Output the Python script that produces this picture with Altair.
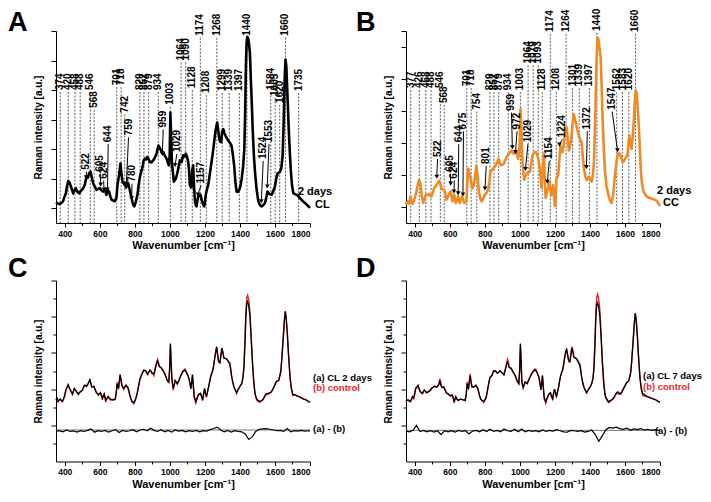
import altair as alt
import pandas as pd

FONT = "Liberation Sans"
ORANGE = "#F08A24"
RED = "#E8262A"

# ---------------- data: panel A (CL, 2 days) : (wavenumber, intensity) ----------------
A_SPECTRUM = [
(350,1.40),(362,1.30),(371,1.29),(380,1.35),(390,1.47),(398,1.75),(406,2.0),(413,2.5),(420,2.84),(427,2.75),
(432,2.58),(440,2.3),(448,2.0),(455,2.2),(463,2.36),(470,2.15),(482,2.0),(490,2.15),(497,2.24),(505,2.35),
(514,2.58),(524,3.13),(531,3.05),(539,3.36),(547,3.47),(554,3.1),(562,2.69),(570,2.5),(581,2.24),(590,2.3),
(600,2.36),(610,2.2),(619,2.13),(628,2.3),(638,1.91),(645,2.2),(653,2.13),(660,1.8),(667,1.58),(676,1.52),
(686,1.47),(695,1.7),(701,2.58),(710,3.24),(718,4.02),(724,3.3),(730,2.8),(736,2.7),(743,2.58),(750,2.4),
(755,2.6),(762,2.69),(770,2.3),(781,1.69),(790,1.25),(797,1.13),(805,1.4),(815,1.91),(822,2.6),(829,3.13),
(837,3.5),(844,3.8),(850,4.2),(857,4.36),(864,4.3),(870,4.47),(878,4.35),(886,4.13),(895,4.1),(905,4.24),
(915,4.45),(924,4.69),(930,5.0),(935,5.24),(942,5.1),(949,4.91),(956,4.75),(962,4.8),(970,4.6),(981,4.36),
(988,4.1),(994,3.91),(999,4.6),(1003,7.47),(1008,5.5),(1012,4.0),(1015,3.69),(1023,2.8),(1028,2.9),(1034,3.0),
(1041,3.3),(1048,3.69),(1057,4.24),(1067,4.13),(1076,4.58),(1082,4.5),(1091,4.69),(1098,4.5),(1105,4.13),(1110,3.5),
(1114,2.58),(1120,2.4),(1124,2.47),(1128,3.6),(1133,3.91),(1138,2.5),(1143,1.47),(1148,1.2),(1152,1.13),(1157,1.5),
(1162,1.8),(1168,1.85),(1175,1.91),(1181,1.6),(1187,1.36),(1192,1.2),(1196,1.13),(1200,1.4),(1205,1.91),(1212,2.3),
(1219,2.58),(1228,3.3),(1238,4.13),(1248,5.0),(1257,5.9),(1263,6.4),(1270,6.8),(1276,6.3),(1282,5.69),(1288,5.5),
(1293,5.47),(1299,6.2),(1305,6.36),(1311,6.1),(1318,5.9),(1325,5.75),(1333,5.58),(1342,5.45),(1352,5.24),(1360,4.6),
(1367,3.91),(1374,2.8),(1381,2.13),(1388,2.1),(1396,2.24),(1403,2.5),(1410,3.0),(1418,3.8),(1425,5.0),(1430,7.5),
(1434,10.6),(1438,12.2),(1442,12.6),(1447,12.5),(1452,12.1),(1457,11.5),(1463,9.5),(1468,8.0),(1473,6.3),(1480,4.5),
(1486,3.47),(1495,2.3),(1505,1.47),(1515,1.2),(1524,1.13),(1533,1.2),(1543,1.36),(1552,1.8),(1557,2.13),(1562,2.05),
(1570,1.95),(1581,1.91),(1590,2.15),(1600,2.47),(1607,3.0),(1615,3.36),(1622,3.4),(1629,3.47),(1636,3.7),(1644,4.58),
(1650,7.0),(1655,9.6),(1660,11.07),(1665,10.6),(1670,9.0),(1675,7.5),(1680,6.0),(1686,4.5),(1691,3.47),(1698,2.5),
(1705,2.02),(1715,1.95),(1724,1.91),(1735,1.8),(1743,1.69),(1757,1.5),(1771,1.36),(1785,1.2),(1800,1.02)]

# (peak label, label bottom, drawn wavenumber of label and dashed line)
A_DASHED = [(374,9.0,374),(420,9.0,420),(458,9.0,458),(488,9.0,488),(546,9.0,546),(568,7.8,568),(701,9.33,697),
(718,9.33,722),(742,7.47,742),(829,9.0,829),(852,9.0,852),(879,9.0,879),(934,9.0,934),(1003,8.0,1003),(1064,11.0,1064),
(1090,11.0,1090),(1128,9.13,1128),(1174,12.67,1174),(1208,8.8,1208),(1268,12.67,1268),(1299,8.93,1299),(1339,8.93,1339),
(1397,8.93,1397),(1440,12.67,1440),(1584,9.0,1576),(1605,8.6,1601),(1620,8.13,1627),(1660,12.67,1660),(1735,8.93,1735)]

# (label, label wavenumber, label bottom, arrow tip wavenumber, arrow tip intensity)
A_ARROWS = [("522",524,3.6,522,3.1),("605",603,3.47,605,2.6),("624",622,3.0,624,2.27),("644",648,5.47,644,2.27),
("759",764,5.93,752,2.67),("780",784,2.8,782,1.67),("959",962,6.47,957,4.67),("1029",1040,4.8,1030,3.93),
("1157",1178,2.67,1160,1.93),("1524",1533,4.33,1522,1.47),("1553",1566,5.47,1556,2.47)]

A_TEXT = [("2 days",1731,2.07,"black"),("CL",1829,1.23,"black")]

# ---------------- data: panel B (CC, 2 days) ----------------
B_SPECTRUM = [
(350,1.15),(356,1.3),(362,1.35),(368,1.2),(375,1.66),(381,1.4),(387,1.19),(394,1.35),(400,1.56),(407,1.8),
(413,2.17),(420,2.5),(425,2.69),(430,2.55),(434,2.28),(440,1.7),(448,1.25),(455,1.5),(463,1.76),(472,1.75),
(482,1.8),(488,1.7),(495,1.66),(503,1.9),(510,2.17),(517,2.25),(524,2.38),(532,2.5),(539,2.63),(545,2.55),
(552,2.17),(560,2.1),(568,2.07),(575,1.8),(581,1.46),(588,1.6),(594,1.76),(600,1.9),(606,1.97),(611,1.6),
(615,1.35),(620,1.6),(625,1.76),(630,1.5),(634,1.25),(641,1.45),(648,1.66),(652,1.4),(657,1.25),(664,1.45),
(670,1.66),(676,1.5),(682,1.25),(690,1.3),(695,1.35),(700,2.6),(705,3.4),(711,3.1),(718,2.79),(724,2.4),
(730,2.17),(737,2.4),(743,2.79),(748,3.2),(752,3.57),(758,3.0),(766,1.97),(773,1.6),(781,1.35),(790,1.5),
(800,1.76),(810,1.9),(819,2.07),(826,2.6),(832,3.2),(840,3.3),(848,3.4),(855,3.5),(863,3.61),(870,3.8),
(878,4.02),(884,3.8),(891,3.61),(900,3.65),(909,3.71),(916,3.9),(924,4.12),(930,4.2),(937,4.33),(945,4.45),
(952,4.53),(959,4.4),(966,4.33),(972,4.45),(977,4.53),(984,4.3),(990,4.02),(995,4.3),(1000,5.25),(1004,7.1),
(1008,6.0),(1012,4.6),(1015,3.82),(1020,3.1),(1025,2.69),(1031,2.9),(1038,3.1),(1047,3.15),(1057,3.2),(1065,3.7),
(1072,4.23),(1079,4.35),(1086,4.43),(1093,4.43),(1099,4.25),(1105,4.02),(1110,3.7),(1114,3.4),(1119,2.8),(1124,2.17),
(1130,3.4),(1137,4.33),(1142,2.8),(1147,1.56),(1153,1.9),(1158,2.07),(1163,2.3),(1167,2.58),(1173,2.2),(1179,1.76),
(1185,2.0),(1190,2.38),(1195,1.7),(1200,1.05),(1205,1.8),(1209,2.79),(1214,2.9),(1219,3.0),(1226,4.0),(1232,4.84),
(1238,4.6),(1244,4.43),(1250,4.9),(1257,5.46),(1262,5.8),(1267,5.97),(1273,5.3),(1280,4.53),(1286,4.8),(1293,5.15),
(1300,6.1),(1305,6.6),(1308,6.79),(1316,6.4),(1324,6.07),(1331,5.7),(1339,5.35),(1346,5.2),(1352,5.05),(1359,4.2),
(1366,3.4),(1374,2.9),(1381,2.69),(1388,2.8),(1396,2.89),(1403,2.7),(1410,2.58),(1417,3.0),(1423,3.82),(1429,6.0),
(1434,8.33),(1439,10.6),(1444,11.6),(1448,11.5),(1454,11.0),(1461,10.4),(1467,8.5),(1473,6.28),(1480,4.5),(1486,3.2),
(1495,2.3),(1505,1.76),(1515,1.4),(1524,1.25),(1533,1.8),(1543,3.0),(1550,3.7),(1558,4.23),(1565,4.35),(1572,4.33),
(1580,4.0),(1587,3.82),(1593,3.85),(1600,4.02),(1607,4.1),(1615,4.33),(1622,5.2),(1626,5.46),(1632,4.9),(1638,4.64),
(1645,5.5),(1651,6.48),(1656,7.6),(1661,8.3),(1667,8.12),(1673,7.2),(1680,5.87),(1686,4.4),(1691,3.2),(1698,2.4),
(1705,1.97),(1715,1.8),(1724,1.66),(1733,1.6),(1743,1.56),(1757,1.5),(1771,1.46),(1780,1.4),(1790,1.25),(1800,1.05)]

B_DASHED = [(377,8.43,377),(426,8.43,426),(468,8.43,463),(488,8.43,493),(546,8.43,546),(568,7.5,568),(701,8.55,697),
(718,8.55,722),(754,7.08,754),(829,8.3,829),(852,8.3,852),(879,8.3,879),(934,8.3,934),(1003,8.3,1003),(1064,9.97,1047),
(1079,9.97,1076),(1093,9.97,1105),(1128,8.3,1128),(1174,11.94,1174),(1208,8.3,1208),(1264,11.94,1264),(1301,8.55,1301),
(1339,8.55,1339),(1397,8.55,1397),(1440,12.0,1440),(1562,8.3,1553),(1583,8.3,1586),(1620,8.3,1622),(1660,11.94,1660)]

B_ARROWS = [("522",530,4.12,526,2.89),("605",603,3.2,605,2.46),("624",626,2.77,624,1.97),("644",651,5.05,648,1.85),
("675",678,5.85,675,1.78),("801",808,3.69,801,2.15),("959",952,7.02,957,4.74),("972",984,5.85,975,4.43),
("1029",1046,5.05,1032,3.38),("1154",1168,4.0,1157,2.58),("1224",1243,5.35,1226,4.9),("1372",1385,5.85,1380,3.5),
("1547",1527,7.08,1557,4.55)]

B_TEXT = [("2 days",1783,1.97,"black"),("CC",1817,1.23,"black")]

# ---------------- data: panel C ((a) CL 2 days, (b) control) : (wavenumber, a, b) ----------------
C_SPECTRA = [
(350,3.41,3.41),(356,3.50,3.48),(362,3.32,3.30),(368,3.40,3.40),(375,3.45,3.43),(381,3.35,3.35),(387,3.32,3.30),(394,3.50,3.46),
(400,3.68,3.60),(405,3.90,3.85),(410,4.04,4.02),(415,4.15,4.12),(419,4.25,4.20),(425,4.10,4.08),(432,3.95,3.95),(438,3.85,3.83),
(444,3.73,3.70),(450,3.90,3.88),(455,4.04,4.02),(461,3.95,3.95),(467,3.86,3.84),(472,3.80,3.80),(478,3.73,3.70),(484,3.80,3.80),
(490,3.86,3.86),(495,3.90,3.90),(501,3.95,3.93),(507,4.10,4.10),(512,4.21,4.18),(518,4.20,4.20),(524,4.16,4.14),(530,4.25,4.25),
(535,4.34,4.32),(540,4.45,4.45),(543,4.57,4.50),(548,4.35,4.35),(554,4.12,4.10),(560,4.14,4.14),(566,4.16,4.16),(573,4.00,3.98),
(581,3.80,3.78),(587,3.75,3.75),(592,3.68,3.66),(598,3.74,3.74),(604,3.80,3.80),(610,3.65,3.62),(615,3.50,3.40),(620,3.62,3.60),
(625,3.73,3.73),(630,3.55,3.50),(634,3.38,3.28),(641,3.50,3.48),(648,3.59,3.59),(655,3.50,3.46),(661,3.45,3.40),(668,3.43,3.40),
(676,3.41,3.38),(682,3.43,3.43),(688,3.45,3.42),(694,3.80,3.80),(699,4.30,4.38),(703,4.15,4.15),(707,4.04,4.00),(711,4.40,4.40),
(716,4.80,4.70),(721,4.50,4.58),(726,4.21,4.21),(732,4.10,4.08),(737,4.04,3.98),(743,4.12,4.12),(749,4.21,4.21),(755,4.15,4.12),
(760,4.12,4.04),(766,3.90,3.90),(771,3.68,3.66),(777,3.50,3.48),(783,3.32,3.32),(789,3.28,3.26),(794,3.24,3.18),(800,3.35,3.33),
(806,3.50,3.50),(812,3.70,3.68),(817,3.95,3.95),(823,4.25,4.22),(829,4.57,4.48),(835,4.70,4.70),(840,4.84,4.80),(846,4.95,4.95),
(851,5.05,5.02),(857,5.03,5.03),(863,5.01,4.98),(868,4.90,4.90),(874,4.84,4.80),(880,4.95,4.95),(886,5.05,5.03),(892,5.00,4.98),
(897,4.92,4.85),(903,4.88,4.84),(909,4.84,4.74),(915,5.05,5.05),(920,5.28,5.30),(925,5.42,5.50),(930,5.55,5.64),(935,5.40,5.45),
(939,5.28,5.28),(945,5.22,5.20),(950,5.19,5.19),(956,5.10,5.08),(962,5.01,5.01),(968,4.90,4.88),(973,4.80,4.80),(979,4.65,4.62),
(985,4.48,4.48),(990,4.42,4.40),(994,4.39,4.36),(999,5.20,5.15),(1003,6.52,6.45),(1007,5.60,5.55),(1011,4.66,4.58),(1015,4.30,4.25),
(1019,4.04,3.94),(1025,4.25,4.20),(1030,4.48,4.46),(1036,4.40,4.40),(1042,4.30,4.28),(1048,4.40,4.40),(1053,4.52,4.50),(1060,4.70,4.70),
(1067,4.84,4.82),(1073,4.95,4.98),(1080,5.01,5.05),(1086,5.05,5.12),(1092,4.95,5.00),(1099,4.84,4.84),(1105,4.70,4.68),(1110,4.57,4.55),
(1115,4.30,4.28),(1120,4.04,4.00),(1125,4.40,4.38),(1129,4.80,4.78),(1134,4.20,4.15),(1139,3.59,3.50),(1144,3.45,3.36),(1148,3.32,3.22),
(1155,3.50,3.45),(1162,3.68,3.66),(1168,3.73,3.73),(1175,3.77,3.74),(1181,3.60,3.56),(1187,3.41,3.35),(1192,3.70,3.68),(1198,4.04,4.00),
(1203,3.80,3.78),(1209,3.59,3.55),(1215,3.85,3.85),(1221,4.12,4.10),(1227,4.40,4.40),(1232,4.66,4.62),(1238,4.85,4.85),(1244,5.01,5.00),
(1250,5.30,5.28),(1255,5.64,5.64),(1261,6.00,6.02),(1267,6.35,6.30),(1272,5.95,5.95),(1278,5.55,5.52),(1282,5.50,5.48),(1286,5.46,5.46),
(1292,5.90,5.92),(1297,6.26,6.26),(1303,6.00,6.04),(1308,5.72,5.72),(1314,5.70,5.70),(1320,5.69,5.69),(1327,5.62,5.65),(1333,5.55,5.55),
(1338,5.45,5.48),(1343,5.37,5.42),(1348,5.05,5.05),(1352,4.75,4.75),(1359,4.40,4.38),(1366,4.12,4.10),(1374,3.95,3.92),(1381,3.80,3.75),
(1388,3.95,3.95),(1396,4.09,4.07),(1403,4.20,4.20),(1410,4.30,4.30),(1417,4.60,4.62),(1423,5.19,5.25),(1429,6.60,6.80),(1434,8.04,8.30),
(1439,8.70,9.05),(1444,8.84,9.19),(1450,8.60,8.95),(1457,8.04,8.30),(1464,6.80,7.00),(1472,5.37,5.45),(1479,4.40,4.40),(1486,3.77,3.75),
(1492,3.55,3.50),(1499,3.41,3.36),(1507,3.35,3.30),(1514,3.32,3.28),(1522,3.36,3.34),(1530,3.41,3.40),(1538,3.55,3.52),(1545,3.68,3.64),
(1552,3.75,3.70),(1560,3.77,3.70),(1567,3.79,3.76),(1575,3.80,3.80),(1582,3.90,3.88),(1590,4.04,4.02),(1598,4.20,4.20),(1606,4.39,4.37),
(1613,4.45,4.45),(1621,4.48,4.46),(1627,4.70,4.70),(1634,5.01,5.01),(1640,5.80,5.80),(1647,6.79,6.79),(1653,7.70,7.72),(1659,8.30,8.30),
(1664,7.90,7.95),(1670,7.15,7.18),(1678,5.80,5.80),(1686,4.66,4.64),(1693,4.10,4.06),(1701,3.73,3.65),(1708,3.70,3.66),(1716,3.68,3.68),
(1725,3.63,3.62),(1735,3.59,3.59),(1745,3.55,3.55),(1754,3.50,3.50),(1765,3.45,3.45),(1777,3.41,3.41),(1788,3.34,3.34),(1800,3.27,3.27)]

C_DIFF = [
(350,1.66),(370,1.70),(390,1.64),(410,1.74),(430,1.66),(450,1.69),(470,1.63),(490,1.70),(510,1.66),(530,1.72),
(550,1.80),(570,1.62),(590,1.70),(610,1.66),(630,1.72),(650,1.62),(670,1.70),(690,1.76),(710,1.60),(730,1.72),
(750,1.66),(770,1.70),(790,1.76),(810,1.64),(830,1.74),(850,1.78),(870,1.70),(890,1.84),(910,1.72),(930,1.66),
(950,1.76),(970,1.64),(990,1.72),(1010,1.62),(1030,1.74),(1050,1.68),(1070,1.72),(1090,1.64),(1110,1.70),(1130,1.66),
(1150,1.72),(1170,1.64),(1190,1.70),(1210,1.68),(1230,1.76),(1250,1.82),(1270,1.90),(1290,1.74),(1310,1.64),(1330,1.72),
(1350,1.62),(1370,1.70),(1390,1.66),(1410,1.64),(1430,1.52),(1450,1.22),(1470,1.36),(1490,1.66),(1510,1.78),(1530,1.80),
(1550,1.82),(1570,1.78),(1590,1.74),(1610,1.70),(1630,1.72),(1650,1.66),(1670,1.82),(1690,1.64),(1710,1.70),(1730,1.68),
(1750,1.72),(1770,1.68),(1790,1.70),(1800,1.69)]
C_ZERO = 1.74
C_TEXT = [("(a) CL 2 days",1817,4.64,"black"),("(b) control",1817,4.05,RED),("(a) - (b)",1817,1.81,"black")]

# ---------------- data: panel D ((a) CL 7 days, (b) control) ----------------
D_SPECTRA = [
(350,3.32,3.32),(356,3.38,3.36),(362,3.41,3.40),(368,3.35,3.33),(375,3.32,3.30),(381,3.45,3.42),(387,3.59,3.55),(394,3.50,3.48),
(400,3.80,3.70),(405,4.04,3.98),(410,4.10,4.08),(415,4.15,4.12),(419,4.21,4.18),(425,4.00,4.00),(432,3.86,3.84),(438,3.80,3.80),
(444,3.77,3.74),(450,3.88,3.88),(455,3.95,3.93),(461,3.88,3.88),(467,3.80,3.78),(472,3.83,3.83),(478,3.86,3.84),(484,3.90,3.90),
(490,3.95,3.93),(495,4.04,4.04),(501,4.08,4.06),(507,4.12,4.12),(512,4.16,4.14),(518,4.14,4.14),(524,4.12,4.10),(530,4.16,4.16),
(535,4.21,4.24),(540,4.30,4.40),(543,4.48,4.57),(548,4.25,4.40),(554,4.09,4.12),(560,4.10,4.10),(566,4.12,4.10),(573,3.95,3.95),
(581,3.80,3.78),(587,3.76,3.76),(592,3.73,3.70),(598,3.68,3.68),(604,3.63,3.60),(610,3.66,3.66),(615,3.68,3.64),(620,3.50,3.45),
(625,3.32,3.25),(630,3.45,3.45),(634,3.59,3.56),(641,3.45,3.42),(648,3.38,3.36),(655,3.42,3.42),(661,3.45,3.43),(668,3.43,3.43),
(676,3.41,3.38),(682,3.40,3.40),(688,3.38,3.36),(694,3.70,3.72),(699,4.30,4.40),(703,4.10,4.12),(707,4.04,4.00),(711,4.35,4.40),
(716,4.75,4.85),(721,4.40,4.50),(726,4.12,4.14),(732,4.12,4.10),(737,4.12,4.12),(743,4.15,4.15),(749,4.21,4.21),(755,4.12,4.10),
(760,4.04,4.02),(766,3.80,3.80),(771,3.59,3.57),(777,3.45,3.45),(783,3.38,3.36),(789,3.35,3.32),(794,3.32,3.25),(800,3.40,3.38),
(806,3.50,3.50),(812,3.75,3.73),(817,4.04,4.04),(823,4.35,4.35),(829,4.66,4.60),(835,4.70,4.70),(840,4.75,4.75),(846,4.90,4.90),
(851,5.01,5.01),(857,5.00,4.98),(863,4.98,4.98),(868,4.93,4.90),(874,4.88,4.88),(880,4.95,4.95),(886,5.01,5.00),(892,4.96,4.96),
(897,4.92,4.90),(903,4.86,4.86),(909,4.80,4.78),(915,5.00,5.02),(920,5.19,5.25),(925,5.37,5.48),(930,5.55,5.65),(935,5.35,5.45),
(939,5.19,5.22),(945,5.17,5.17),(950,5.16,5.16),(956,5.04,5.04),(962,4.92,4.92),(968,4.84,4.84),(973,4.75,4.75),(979,4.60,4.58),
(985,4.44,4.44),(990,4.36,4.36),(994,4.30,4.30),(999,5.10,5.08),(1003,6.52,6.45),(1007,5.60,5.55),(1011,4.48,4.40),(1015,4.25,4.22),
(1019,4.09,4.05),(1025,4.25,4.25),(1030,4.39,4.39),(1036,4.35,4.35),(1042,4.30,4.30),(1048,4.45,4.45),(1053,4.57,4.55),(1060,4.70,4.70),
(1067,4.84,4.86),(1073,4.93,4.96),(1080,5.01,5.04),(1086,5.08,5.10),(1092,5.00,5.10),(1099,4.90,4.92),(1105,4.75,4.75),(1110,4.60,4.60),
(1115,4.30,4.28),(1120,3.95,3.95),(1125,4.35,4.35),(1129,4.75,4.75),(1134,4.10,4.08),(1139,3.55,3.45),(1144,3.40,3.35),(1148,3.30,3.22),
(1155,3.50,3.48),(1162,3.65,3.65),(1168,3.75,3.75),(1175,3.80,3.80),(1181,3.60,3.58),(1187,3.45,3.42),(1192,3.75,3.75),(1198,4.00,4.00),
(1203,3.80,3.80),(1209,3.60,3.58),(1215,3.85,3.85),(1221,4.10,4.10),(1227,4.45,4.45),(1232,4.70,4.70),(1238,4.90,4.90),(1244,5.05,5.05),
(1250,5.35,5.35),(1255,5.70,5.72),(1261,6.00,6.05),(1267,6.17,6.25),(1272,5.90,5.95),(1278,5.60,5.62),(1282,5.50,5.52),(1286,5.50,5.52),
(1292,5.95,6.00),(1297,6.26,6.35),(1303,6.05,6.15),(1308,5.75,5.80),(1314,5.72,5.75),(1320,5.70,5.72),(1327,5.60,5.65),(1333,5.50,5.55),
(1338,5.40,5.45),(1343,5.30,5.38),(1348,5.00,5.02),(1352,4.70,4.70),(1359,4.35,4.35),(1366,4.10,4.10),(1374,3.92,3.92),(1381,3.80,3.78),
(1388,3.92,3.92),(1396,4.05,4.05),(1403,4.15,4.15),(1410,4.30,4.32),(1417,4.55,4.60),(1423,5.10,5.20),(1429,6.50,6.80),(1434,8.00,8.35),
(1439,8.65,9.10),(1444,8.78,9.24),(1450,8.55,9.00),(1457,8.00,8.35),(1464,6.80,7.00),(1472,5.30,5.40),(1479,4.30,4.35),(1486,3.70,3.70),
(1492,3.50,3.48),(1499,3.42,3.35),(1507,3.30,3.25),(1514,3.35,3.30),(1522,3.40,3.38),(1530,3.45,3.43),(1538,3.55,3.52),(1545,3.70,3.66),
(1552,3.80,3.76),(1560,3.85,3.75),(1567,3.78,3.70),(1575,3.75,3.72),(1582,3.85,3.82),(1590,4.00,3.98),(1598,4.15,4.13),(1606,4.30,4.28),
(1613,4.40,4.40),(1621,4.45,4.43),(1627,4.65,4.65),(1634,5.00,5.00),(1640,5.75,5.75),(1647,6.70,6.72),(1653,7.60,7.62),(1659,8.18,8.20),
(1664,7.80,7.82),(1670,7.05,7.08),(1678,5.70,5.70),(1686,4.60,4.58),(1693,4.05,4.02),(1701,3.75,3.65),(1708,3.72,3.62),(1716,3.65,3.62),
(1725,3.60,3.60),(1735,3.55,3.55),(1745,3.52,3.52),(1754,3.48,3.48),(1765,3.45,3.45),(1777,3.40,3.40),(1788,3.33,3.33),(1800,3.27,3.27)]

D_DIFF = [
(350,1.68),(370,1.64),(390,1.72),(410,2.00),(430,1.66),(450,1.72),(470,1.64),(490,1.70),(510,1.62),(530,1.70),
(550,1.48),(570,1.70),(590,1.64),(610,1.70),(630,1.62),(650,1.72),(670,1.66),(690,1.70),(710,1.52),(730,1.68),
(750,1.72),(770,1.64),(790,1.76),(810,1.66),(830,1.78),(850,1.66),(870,1.72),(890,1.64),(910,1.80),(930,1.70),
(950,1.66),(970,1.78),(990,1.64),(1010,1.80),(1030,1.64),(1050,1.72),(1070,1.66),(1090,1.70),(1110,1.64),(1130,1.74),
(1150,1.66),(1170,1.72),(1190,1.68),(1210,1.76),(1230,1.70),(1250,1.64),(1270,1.62),(1290,1.72),(1310,1.70),(1330,1.66),
(1350,1.70),(1370,1.62),(1390,1.66),(1410,1.74),(1430,1.50),(1450,1.12),(1470,1.40),(1490,1.74),(1510,1.88),(1530,1.84),
(1550,1.90),(1570,1.82),(1590,1.78),(1610,1.84),(1630,1.74),(1650,1.80),(1670,1.76),(1690,1.82),(1710,1.74),(1730,1.78),
(1750,1.72),(1770,1.76),(1790,1.72),(1800,1.72)]
D_ZERO = 1.72
D_TEXT = [("(a) CL 7 days",1703,4.75,"black"),("(b) control",1703,4.1,RED),("(a) - (b)",1771,1.7,"black")]

X_TICKS = [400,500,600,700,800,900,1000,1100,1200,1300,1400,1500,1600,1700,1800]

# ---------------- helpers ----------------
XSCALE = alt.Scale(domain=[350, 1800], nice=False, zero=False)
XAXIS = alt.Axis(values=X_TICKS, format="d", title="Wavenumber [cm⁻¹]",
                 labelExpr="datum.value % 200 == 0 ? datum.label : ''",
                 tickSize={"condition": {"test": "datum.value % 200 == 0", "value": 4}, "value": 2.5},
                 titlePadding=2, labelPadding=2, titleFontSize=11)


def X(field):
    return alt.X(f"{field}:Q", scale=XSCALE, axis=XAXIS)


def y_parts(ymax, yticks, major_test):
    scale = alt.Scale(domain=[0, ymax], nice=False, zero=False)
    axis = alt.Axis(values=yticks, labels=False, title="Raman intensity [a.u.]",
                    tickSize={"condition": {"test": major_test, "value": 5}, "value": 3},
                    titlePadding=7, titleFontSize=10)
    return scale, axis


def Y(field, parts):
    return alt.Y(f"{field}:Q", scale=parts[0], axis=parts[1])


def text_layer(rows, yp, size=11):
    df = pd.DataFrame(rows, columns=["label", "x", "y", "c"])
    return alt.Chart(df).mark_text(align="left", baseline="middle", font=FONT, fontWeight="bold",
                                   fontSize=size).encode(
        x=X("x"), y=Y("y", yp), text="label:N", color=alt.Color("c:N", scale=None))


def letter_layer(letter, dx, dy):
    return alt.Chart(pd.DataFrame({"t": [letter]})).mark_text(
        align="left", baseline="top", font=FONT, fontWeight="bold", fontSize=27, color="black"
    ).encode(text="t:N", x=alt.value(dx), y=alt.value(dy))


def annotated_panel(spectrum, color, dashed, arrows, texts, ymax, yticks, major_test, gap, letter, ldx, ldy, height):
    yp = y_parts(ymax, yticks, major_test)
    spec = pd.DataFrame(spectrum, columns=["x", "y"])
    dash_df = pd.DataFrame(dashed, columns=["peak", "y", "x"])
    dash_df["ytop"] = dash_df["y"] - gap
    dash_df["y0"] = 0.0
    dash_df["label"] = dash_df["peak"].astype(str)
    arr = pd.DataFrame(arrows, columns=["label", "x", "y", "tx", "ty"])
    arr["ys"] = arr["y"] - gap

    dash_rules = alt.Chart(dash_df).mark_rule(color="#333333", strokeWidth=0.8, strokeDash=[2, 1.5]).encode(
        x=X("x"), y=Y("ytop", yp), y2="y0:Q")
    line = alt.Chart(spec).mark_line(color=color, strokeWidth=2.6, strokeJoin="round").encode(
        x=X("x"), y=Y("y", yp))
    dash_text = alt.Chart(dash_df).mark_text(angle=270, align="left", baseline="middle", font=FONT,
                                             fontWeight="bold", fontSize=10, color="black").encode(
        x=X("x"), y=Y("y", yp), text="label:N")
    arrow_text = alt.Chart(arr).mark_text(angle=270, align="left", baseline="middle", font=FONT,
                                          fontWeight="bold", fontSize=10, color="black").encode(
        x=X("x"), y=Y("y", yp), text="label:N")
    arrow_rule = alt.Chart(arr).mark_rule(color="black", strokeWidth=1).encode(
        x=X("x"), y=Y("ys", yp), x2="tx:Q", y2="ty:Q")
    arrow_head = alt.Chart(arr).mark_point(shape="triangle-down", filled=True, size=22, color="black",
                                           opacity=1).encode(x=X("tx"), y=Y("ty", yp))
    txt = text_layer(texts, yp, 11)
    return alt.layer(dash_rules, line, dash_text, arrow_rule, arrow_head, arrow_text, txt,
                     letter_layer(letter, ldx, ldy)).properties(width=254, height=height)


def compare_panel(spectra, diff, zero, texts, letter, ldx, ldy, height):
    yp = y_parts(10, [1, 2, 3, 4, 5, 6, 7, 8, 9, 10], "datum.value % 2 == 0")
    sdf = pd.DataFrame(spectra, columns=["x", "a", "b"])
    ddf = pd.DataFrame(diff, columns=["x", "y"])
    zdf = pd.DataFrame({"x": [350], "x2": [1800], "y": [zero]})
    red = alt.Chart(sdf).mark_line(color=RED, strokeWidth=1.4).encode(x=X("x"), y=Y("b", yp))
    black = alt.Chart(sdf).mark_line(color="black", strokeWidth=1.3).encode(x=X("x"), y=Y("a", yp))
    zline = alt.Chart(zdf).mark_rule(color="#555555", strokeWidth=0.8).encode(x=X("x"), x2="x2:Q", y=Y("y", yp))
    dline = alt.Chart(ddf).mark_line(color="black", strokeWidth=1.2).encode(x=X("x"), y=Y("y", yp))
    txt = text_layer(texts, yp, 9.5)
    return alt.layer(zline, dline, red, black, txt, letter_layer(letter, ldx, ldy)).properties(
        width=254, height=height)


pA = annotated_panel(A_SPECTRUM, "black", A_DASHED, A_ARROWS, A_TEXT, 13, [1, 3, 5, 7, 9, 11, 13],
                     "datum.value > 0", 0.13, "A", -48, -21, 192)
pB = annotated_panel(B_SPECTRUM, ORANGE, B_DASHED, B_ARROWS, B_TEXT, 12, [1, 3, 5, 7, 9, 11, 12],
                     "datum.value > 0", 0.12, "B", -50, -21, 192)
pC = compare_panel(C_SPECTRA, C_DIFF, C_ZERO, C_TEXT, "C", -48, -25, 181)
pD = compare_panel(D_SPECTRA, D_DIFF, D_ZERO, D_TEXT, "D", -50, -25, 181)

chart = alt.concat(pA, pB, pC, pD, columns=2, spacing={"row": 57.5, "column": 96}, bounds="flush").properties(
    padding={"left": 0, "top": 0, "right": 0, "bottom": 2}
).configure_view(strokeWidth=0).configure_axis(
    grid=False, domainColor="black", tickColor="black", domainWidth=1, tickWidth=1,
    labelFont=FONT, labelFontWeight="bold", labelFontSize=8.5, labelColor="black",
    titleFont=FONT, titleFontWeight="bold", titleColor="black"
)

chart.save("out.html", embed_options={"renderer": "svg", "actions": False})
